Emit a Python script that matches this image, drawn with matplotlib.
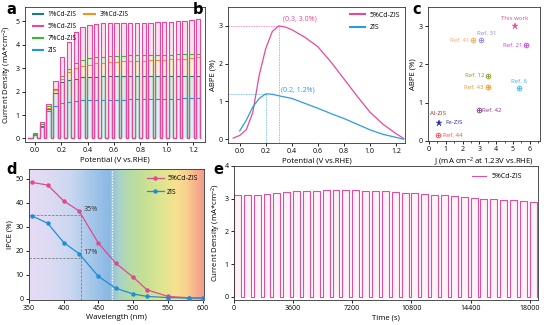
import numpy as np
import matplotlib
matplotlib.use("Agg")
import matplotlib.pyplot as plt
from matplotlib.colors import LinearSegmentedColormap
from matplotlib.lines import Line2D

plt.rcParams['font.family'] = ['Open Sans', 'DejaVu Sans']
plt.rcParams['mathtext.default'] = 'regular'
plt.rcParams['axes.linewidth'] = 0.6
plt.rcParams['axes.edgecolor'] = '#333333'
plt.rcParams['xtick.major.width'] = 0.6
plt.rcParams['ytick.major.width'] = 0.6
plt.rcParams['xtick.major.size'] = 2.2
plt.rcParams['ytick.major.size'] = 2.2
plt.rcParams['xtick.labelsize'] = 5.0
plt.rcParams['ytick.labelsize'] = 5.0
plt.rcParams['xtick.major.pad'] = 1.5
plt.rcParams['ytick.major.pad'] = 1.5
plt.rcParams['axes.labelsize'] = 5.6
plt.rcParams['axes.labelpad'] = 1.5

# ---------------- data ----------------
# (a) chopped-light LSV: light-on photocurrent of each pulse (mA cm^-2)
chop_start = -0.015      # V, first light-on edge
chop_period = 0.0515     # V per light/dark cycle
chop_on = 0.65           # fraction of a cycle with light on
lsv_names = ['1%Cd-ZIS', '5%Cd-ZIS', '7%Cd-ZIS', 'ZIS', '3%Cd-ZIS']
lsv_colors = {'1%Cd-ZIS': '#17807a', '3%Cd-ZIS': '#f39020', '5%Cd-ZIS': '#e8489a',
              '7%Cd-ZIS': '#3db83a', 'ZIS': '#2196e0'}
lsv_on = {
    '5%Cd-ZIS': [0.22, 0.70, 1.45, 2.45, 3.45, 4.10, 4.55, 4.75, 4.85, 4.88, 4.90, 4.90, 4.90,
                 4.92, 4.92, 4.92, 4.93, 4.93, 4.95, 4.95, 4.97, 5.00, 5.02, 5.05, 5.08],
    '7%Cd-ZIS': [0.20, 0.62, 1.38, 2.10, 2.65, 2.95, 3.20, 3.35, 3.42, 3.45, 3.48, 3.50, 3.52,
                 3.53, 3.55, 3.55, 3.55, 3.56, 3.56, 3.57, 3.57, 3.58, 3.58, 3.60, 3.60],
    '3%Cd-ZIS': [0.18, 0.60, 1.30, 2.05, 2.55, 2.85, 3.00, 3.10, 3.15, 3.20, 3.22, 3.25, 3.27,
                 3.28, 3.30, 3.30, 3.32, 3.33, 3.35, 3.35, 3.37, 3.38, 3.40, 3.42, 3.45],
    '1%Cd-ZIS': [0.17, 0.55, 1.25, 1.95, 2.40, 2.50, 2.55, 2.60, 2.62, 2.63, 2.64, 2.65, 2.65,
                 2.65, 2.65, 2.65, 2.65, 2.66, 2.66, 2.66, 2.66, 2.66, 2.67, 2.67, 2.67],
    'ZIS':      [0.15, 0.50, 1.15, 1.40, 1.50, 1.55, 1.60, 1.62, 1.63, 1.64, 1.65, 1.65, 1.66,
                 1.66, 1.67, 1.67, 1.68, 1.68, 1.68, 1.69, 1.70, 1.70, 1.72, 1.72, 1.72],
}
lsv_stack = ['ZIS', '1%Cd-ZIS', '3%Cd-ZIS', '7%Cd-ZIS', '5%Cd-ZIS']

# (b) applied bias photon-to-current efficiency
abpe_v_cd = [-0.05, 0.0, 0.05, 0.10, 0.15, 0.20, 0.25, 0.30, 0.35, 0.40, 0.50, 0.60,
             0.70, 0.80, 0.90, 1.00, 1.10, 1.20, 1.26]
abpe_cd = [0.03, 0.10, 0.25, 0.70, 1.70, 2.40, 2.85, 3.00, 2.97, 2.90, 2.70, 2.45,
           2.05, 1.60, 1.15, 0.72, 0.40, 0.15, 0.02]
abpe_v_zis = [0.0, 0.05, 0.10, 0.15, 0.20, 0.25, 0.30, 0.40, 0.50, 0.60, 0.70, 0.80,
              0.90, 1.00, 1.10, 1.20, 1.26]
abpe_zis = [0.22, 0.50, 0.85, 1.08, 1.20, 1.19, 1.15, 1.08, 0.95, 0.82, 0.68, 0.55,
            0.40, 0.25, 0.13, 0.05, 0.0]
peak_cd = (0.3, 3.0)
peak_zis = (0.2, 1.2)

# (c) comparison with reported photoanodes
ref_labels = ['This work', 'Ref. 31', 'Ref. 41', 'Ref. 21', 'Ref. 12', 'Ref. 43',
              'Ref. 6', 'Ref. 42', 'Fe-ZIS', 'Ref. 44']
ref_j = [5.1, 3.1, 2.6, 5.75, 3.5, 3.5, 5.35, 2.95, 0.62, 0.56]
ref_abpe = [3.0, 2.63, 2.63, 2.5, 1.71, 1.4, 1.39, 0.8, 0.48, 0.15]
ref_colors = ['#e8489a', '#8f86e0', '#f0a868', '#c844d0', '#8a9a1e', '#f09030',
              '#40b0f0', '#8a3a8a', '#2a2ab0', '#f05050']
ref_star = [True, False, False, False, False, False, False, False, True, False]
al_label = 'Al-ZIS'
al_color = '#a02828'

# (d) IPCE spectra
wl = [355, 377, 400, 422, 450, 475, 500, 520, 550, 580, 600]
ipce_cd = [48.4, 47.3, 40.7, 36.6, 23.1, 14.8, 9.0, 3.7, 1.0, 0.4, 0.3]
ipce_zis = [34.4, 31.4, 23.4, 18.8, 9.3, 4.4, 2.0, 1.0, 0.5, 0.3, 0.3]
ipce_mark_wl = 425
ipce_mark_cd = 35
ipce_mark_zis = 17
edge_wl = 470
spec_wl = [350, 380, 410, 440, 465, 480, 495, 515, 540, 562, 578, 590, 602]
spec_colors = ['#e7dcf6', '#dcdbf3', '#c9d7f0', '#a6c7ea', '#8ab8e4', '#a9d3c8',
               '#b6dba6', '#c4e096', '#dce58f', '#f6e291', '#f8cf8e', '#f7b38c', '#f59c8e']

# (e) stability under chopped light
stab_period = 600       # s
stab_on = 420           # s of light per cycle
stab_on_current = [3.12, 3.10, 3.12, 3.14, 3.17, 3.20, 3.22, 3.24, 3.25, 3.27, 3.27,
                   3.27, 3.26, 3.25, 3.24, 3.22, 3.20, 3.18, 3.16, 3.13, 3.12, 3.10,
                   3.08, 3.05, 3.02, 3.00, 2.98, 2.96, 2.95, 2.93, 2.90]


def chopped(starts, width, levels, x0, x1):
    xs, ys = [x0], [0.0]
    for s, v in zip(starts, levels):
        xs += [s, s, s + width, s + width]
        ys += [0.0, v, v, 0.0]
    xs.append(x1)
    ys.append(0.0)
    return np.array(xs), np.array(ys)


W, H = 554, 325
fig = plt.figure(figsize=(W / 100, H / 100), dpi=100)


def px_axes(l, t, r, b):
    return fig.add_axes([l / W, 1 - b / H, (r - l) / W, (b - t) / H])


# ---------------- (a) ----------------
ax = px_axes(25, 7, 205, 142)
n_pulse = len(lsv_on['ZIS'])
starts = chop_start + chop_period * np.arange(n_pulse)
width = chop_period * chop_on
curves = {}
for name in lsv_stack:
    x, y = chopped(starts, width, lsv_on[name], -0.05, starts[-1] + width)
    curves[name] = (x, y)
prev = np.zeros_like(curves['ZIS'][1])
for name in lsv_stack:
    x, y = curves[name]
    ax.fill_between(x, prev, y, color=lsv_colors[name], alpha=0.16, lw=0)
    prev = y
for name in lsv_stack:
    x, y = curves[name]
    ax.plot(x, y, color=lsv_colors[name], lw=0.8)
ax.set_xlim(-0.075, 1.29)
ax.set_ylim(-0.15, 5.6)
ax.set_xticks([0.0, 0.2, 0.4, 0.6, 0.8, 1.0, 1.2])
ax.set_yticks([0, 1, 2, 3, 4, 5])
ax.set_xlabel('Potential (V vs.RHE)')
ax.set_ylabel('Current Density (mA*cm$^{-2}$)')
handles = [Line2D([], [], color=lsv_colors[n], lw=1.5) for n in lsv_names]
blank = Line2D([], [], color='none')
ax.legend(handles[:4] + [handles[4], blank, blank, blank],
          lsv_names[:4] + [lsv_names[4], '', '', ''], ncol=2, loc='upper left',
          frameon=False, fontsize=4.8, handlelength=1.6, handletextpad=0.7,
          labelspacing=0.75, columnspacing=1.1, borderaxespad=0.2,
          bbox_to_anchor=(0.02, 1.0))

# ---------------- (b) ----------------
ax = px_axes(228, 7, 405, 143)
ax.plot(abpe_v_cd, abpe_cd, color='#e8489a', lw=0.9, label='5%Cd-ZIS')
ax.plot(abpe_v_zis, abpe_zis, color='#2a9de0', lw=0.9, label='ZIS')
ax.set_xlim(-0.09, 1.27)
ax.set_ylim(-0.1, 3.5)
ax.plot([-0.09, peak_cd[0]], [peak_cd[1]] * 2, color='#e8489a', lw=0.6, ls=(0, (2, 1)), alpha=0.6)
ax.plot([peak_cd[0]] * 2, [-0.1, peak_cd[1]], color='#e8489a', lw=0.6, ls=(0, (2, 1)), alpha=0.6)
ax.plot([-0.09, peak_zis[0]], [peak_zis[1]] * 2, color='#2a9de0', lw=0.6, ls=(0, (2, 1)), alpha=0.6)
ax.plot([peak_zis[0]] * 2, [-0.1, peak_zis[1]], color='#2a9de0', lw=0.6, ls=(0, (2, 1)), alpha=0.6)
ax.text(peak_cd[0] + 0.03, peak_cd[1] + 0.08, f'({peak_cd[0]:.1f}, {peak_cd[1]:.1f}%)',
        color='#e8489a', fontsize=5.0, va='bottom')
ax.text(peak_zis[0] + 0.12, peak_zis[1] + 0.02, f'({peak_zis[0]:.1f}, {peak_zis[1]:.1f}%)',
        color='#2a9de0', fontsize=5.0, va='bottom')
ax.set_xticks([0.0, 0.2, 0.4, 0.6, 0.8, 1.0, 1.2])
ax.set_yticks([0, 1, 2, 3])
ax.set_xlabel('Potential (V vs.RHE)')
ax.set_ylabel('ABPE (%)')
ax.legend(loc='upper right', frameon=False, fontsize=5.0, handlelength=2.2,
          handletextpad=0.6, labelspacing=0.8, borderaxespad=0.3)
for l in ax.get_legend().get_lines():
    l.set_linewidth(1.5)

# ---------------- (c) ----------------
ax = px_axes(428, 7, 540, 141)
label_place = {
    'This work': (0.0, 0.13, 'center', 'bottom'),
    'Ref. 31': (0.35, 0.10, 'center', 'bottom'),
    'Ref. 41': (-0.2, 0.0, 'right', 'center'),
    'Ref. 21': (-0.2, 0.0, 'right', 'center'),
    'Ref. 12': (-0.2, 0.0, 'right', 'center'),
    'Ref. 43': (-0.25, 0.0, 'right', 'center'),
    'Ref. 6': (0.0, 0.10, 'center', 'bottom'),
    'Ref. 42': (0.2, 0.0, 'left', 'center'),
    'Fe-ZIS': (0.38, 0.0, 'left', 'center'),
    'Ref. 44': (0.28, 0.0, 'left', 'center'),
}
for lab, jx, ay, col, star in zip(ref_labels, ref_j, ref_abpe, ref_colors, ref_star):
    if star:
        ax.plot(jx, ay, marker='*', color=col, ms=4.5, mew=0.3, ls='none')
    else:
        ax.plot(jx, ay, marker='o', mfc='none', mec=col, ms=3.4, mew=0.6, ls='none')
        ax.plot(jx, ay, marker='+', color=col, ms=3.4, mew=0.6, ls='none')
    dx, dy, ha, va = label_place[lab]
    ax.text(jx + dx, ay + dy, lab, color=col, fontsize=4.4, ha=ha, va=va)
ax.text(ref_j[8] - 0.05, ref_abpe[8] + 0.23, al_label, color=al_color, fontsize=4.4,
        ha='center', va='center')
ax.set_xlim(-0.05, 6.6)
ax.set_ylim(0, 3.5)
ax.set_xticks(range(7))
ax.set_xticks(np.arange(0.5, 6.6, 1.0), minor=True)
ax.tick_params(which='minor', length=1.3, width=0.5)
ax.set_yticks([0, 1, 2, 3])
ax.set_xlabel('J (mA cm$^{-2}$ at 1.23V vs.RHE)')
ax.set_ylabel('ABPE (%)')

# ---------------- (d) ----------------
ax = px_axes(29, 169, 204, 300)
xlo, xhi, ylo, yhi = 350, 602, -0.5, 54
pos = [(w - xlo) / (xhi - xlo) for w in spec_wl]
pos[0], pos[-1] = 0.0, 1.0
cmap = LinearSegmentedColormap.from_list('spectrum', list(zip(pos, spec_colors)))
ax.imshow(np.linspace(0, 1, 400)[None, :], cmap=cmap, aspect='auto',
          extent=[xlo, xhi, ylo, yhi], zorder=0, interpolation='bilinear')
ax.axvline(edge_wl, color='white', lw=1.0, ls=(0, (1, 1)), zorder=1)
gray = dict(color='#808080', lw=0.6, ls=(0, (3, 1.5)), zorder=1)
ax.plot([xlo, ipce_mark_wl], [ipce_mark_cd] * 2, **gray)
ax.plot([xlo, ipce_mark_wl], [ipce_mark_zis] * 2, **gray)
ax.plot([ipce_mark_wl] * 2, [ylo, ipce_mark_cd], **gray)
ax.text(ipce_mark_wl + 3, ipce_mark_cd + 0.6, f'{ipce_mark_cd}%', fontsize=5.2, color='#333333', va='bottom')
ax.text(ipce_mark_wl + 3, ipce_mark_zis + 0.6, f'{ipce_mark_zis}%', fontsize=5.2, color='#333333', va='bottom')
ax.plot(wl, ipce_cd, color='#e04a8e', lw=0.9, marker='o', ms=2.2, label='5%Cd-ZIS', zorder=3)
ax.plot(wl, ipce_zis, color='#1e8fd6', lw=0.9, marker='o', ms=2.2, label='ZIS', zorder=3)
ax.set_xlim(xlo, xhi)
ax.set_ylim(ylo, yhi)
ax.set_xticks([350, 400, 450, 500, 550, 600])
ax.set_yticks([0, 10, 20, 30, 40, 50])
ax.set_xlabel('Wavelength (nm)')
ax.set_ylabel('IPCE (%)')
ax.legend(loc='upper right', frameon=False, fontsize=5.0, handlelength=2.4,
          handletextpad=0.5, labelspacing=0.9, borderaxespad=0.5)

# ---------------- (e) ----------------
ax = px_axes(234, 166, 538, 300)
n_cyc = len(stab_on_current)
t_starts = stab_period * np.arange(n_cyc)
tx, ty = chopped(t_starts, stab_on, stab_on_current, 0, t_starts[-1] + stab_on)
ax.fill_between(tx, 0, ty, color='#e8489a', alpha=0.07, lw=0)
ax.plot(tx, ty, color='#e0509a', lw=0.8, label='5%Cd-ZIS')
ax.set_xlim(0, 18500)
ax.set_ylim(-0.1, 4)
ax.set_xticks([0, 3600, 7200, 10800, 14400, 18000])
ax.set_yticks([0, 1, 2, 3, 4])
ax.set_xlabel('Time (s)')
ax.set_ylabel('Current Density (mA*cm$^{-2}$)')
ax.legend(loc='upper right', frameon=False, fontsize=5.0, handlelength=2.0,
          handletextpad=0.8, borderaxespad=0.6, bbox_to_anchor=(0.97, 1.0))

# panel letters
for lab, x, y in [('a', 6, 2), ('b', 193, 2), ('c', 412, 2), ('d', 6, 162), ('e', 213, 162)]:
    fig.text(x / W, 1 - y / H, lab, fontsize=10.5, fontweight='bold', va='top', ha='left',
             family='DejaVu Sans')

fig.savefig('out.png', dpi=100)
